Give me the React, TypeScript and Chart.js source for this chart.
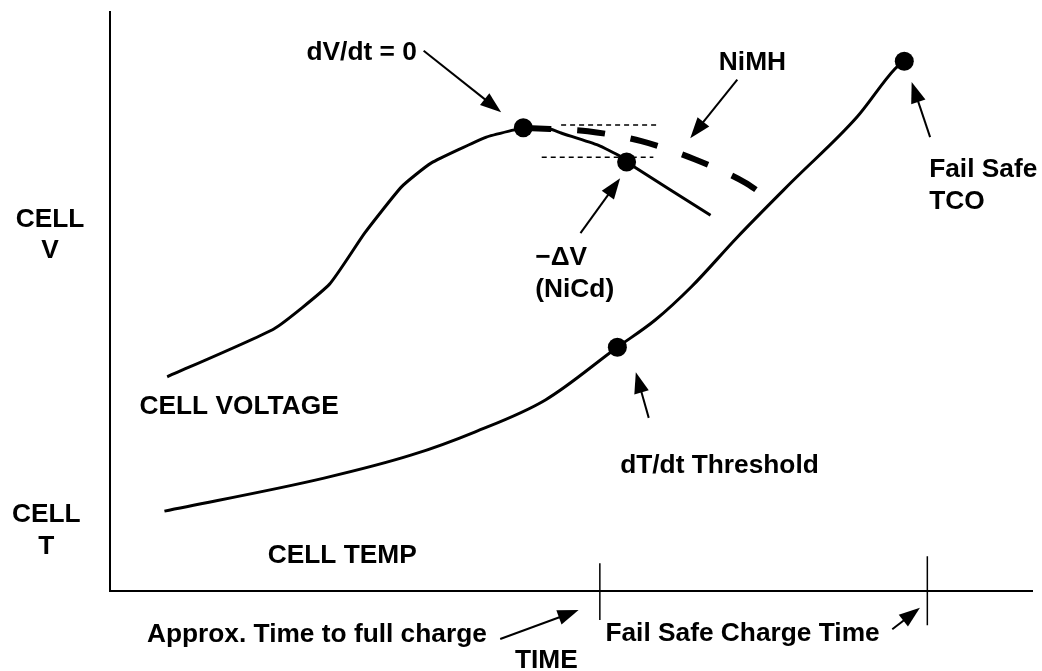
import { useEffect, useRef } from "react";
import { Chart, registerables } from "chart.js";

Chart.register(...registerables);

// Schematic charge curves (time 0-100, level 0-100, arbitrary units)
const voltageTime = [6.2, 17.8, 23.8, 27.6, 31.6, 34.8, 40.8, 43.7, 44.8, 47.7, 48.9, 52.9, 55.3, 56.0, 65.1];
const voltageLevel = [37.0, 45.3, 53.0, 61.8, 69.8, 73.9, 78.4, 79.6, 80.0, 79.8, 79.1, 77.0, 75.1, 74.1, 64.9];

const nimhTime = [44.8, 47.7, 51.8, 57.6, 63.3, 68.9, 70.4];
const nimhLevel = [80.0, 79.8, 79.4, 77.7, 74.6, 70.5, 68.9];

const tempTime = [5.9, 23.2, 32.7, 39.6, 47.2, 55.0, 59.1, 63.0, 68.0, 73.8, 81.0, 85.1, 86.1];
const tempLevel = [13.8, 19.5, 23.5, 27.5, 33.0, 42.1, 46.8, 52.5, 61.1, 70.5, 81.9, 90.2, 91.5];

// Termination events: dV/dt = 0, -dV (NiCd), dT/dt threshold, fail safe TCO
const eventTime = [44.8, 56.0, 55.0, 86.1];
const eventLevel = [80.0, 74.1, 42.1, 91.5];

// -dV reference levels
const refStart = [48.9, 46.8];
const refEnd = [59.2, 58.9];
const refLevel = [80.5, 74.9];

// Time axis marks: approx. time to full charge, fail safe charge time
const markTime = [53.1, 88.6];
const markTop = [4.8, 6.0];
const markBottom = [-5.0, -5.9];

type Label = { lines: string[]; x: number; y: number; align: CanvasTextAlign };
const labels: Label[] = [
  { lines: ["CELL", "V"], x: -6.5, y: 62.9, align: "center" },
  { lines: ["CELL", "T"], x: -6.9, y: 11.9, align: "center" },
  { lines: ["CELL VOLTAGE"], x: 3.2, y: 30.6, align: "left" },
  { lines: ["CELL TEMP"], x: 17.1, y: 4.8, align: "left" },
  { lines: ["Approx. Time to full charge"], x: 4.0, y: -8.8, align: "left" },
  { lines: ["TIME"], x: 43.9, y: -13.3, align: "left" },
  { lines: ["Fail Safe Charge Time"], x: 53.7, y: -8.6, align: "left" },
  { lines: ["dV/dt = 0"], x: 21.3, y: 91.7, align: "left" },
  { lines: ["NiMH"], x: 66.0, y: 90.0, align: "left" },
  { lines: ["\u2212\u0394V", "(NiCd)"], x: 46.1, y: 56.3, align: "left" },
  { lines: ["dT/dt Threshold"], x: 55.3, y: 20.4, align: "left" },
  { lines: ["Fail Safe", "TCO"], x: 88.8, y: 71.5, align: "left" },
];

type Arrow = { from: [number, number]; to: [number, number] };
const arrows: Arrow[] = [
  { from: [34.0, 93.3], to: [42.4, 82.7] },
  { from: [68.0, 88.3], to: [62.9, 78.2] },
  { from: [51.0, 61.8], to: [55.3, 71.3] },
  { from: [58.4, 29.9], to: [57.0, 37.8] },
  { from: [88.9, 78.4], to: [86.9, 87.9] },
  { from: [42.3, -8.3], to: [50.8, -3.3] },
  { from: [84.8, -6.6], to: [87.8, -2.9] },
];

const FONT = "bold 26.3px 'Liberation Sans', Arial, Helvetica, sans-serif";

const annotatePlugin = {
  id: "annotate",
  afterDatasetsDraw(chart: any) {
    const { ctx, scales } = chart;
    const xs = scales.x;
    const ys = scales.y;
    ctx.save();
    ctx.fillStyle = "#000";
    ctx.strokeStyle = "#000";
    ctx.lineWidth = 2;
    ctx.lineCap = "butt";
    for (const a of arrows) {
      const x1 = xs.getPixelForValue(a.from[0]);
      const y1 = ys.getPixelForValue(a.from[1]);
      const x2 = xs.getPixelForValue(a.to[0]);
      const y2 = ys.getPixelForValue(a.to[1]);
      const ang = Math.atan2(y2 - y1, x2 - x1);
      const c = Math.cos(ang);
      const s = Math.sin(ang);
      const head = 21;
      const half = 7.5;
      const bx = x2 - head * c;
      const by = y2 - head * s;
      ctx.beginPath();
      ctx.moveTo(x1, y1);
      ctx.lineTo(bx + 2 * c, by + 2 * s);
      ctx.stroke();
      ctx.beginPath();
      ctx.moveTo(x2, y2);
      ctx.lineTo(bx - half * s, by + half * c);
      ctx.lineTo(bx + half * s, by - half * c);
      ctx.closePath();
      ctx.fill();
    }
    ctx.font = FONT;
    ctx.textBaseline = "alphabetic";
    for (const l of labels) {
      ctx.textAlign = l.align;
      const px = xs.getPixelForValue(l.x);
      const py = ys.getPixelForValue(l.y);
      l.lines.forEach((t, i) => ctx.fillText(t, px, py + i * 31.5));
    }
    ctx.restore();
  },
};

const pts = (xs: number[], ys: number[]) => xs.map((x, i) => ({ x, y: ys[i] }));

export default function App() {
  const ref = useRef<HTMLCanvasElement | null>(null);
  useEffect(() => {
    if (!ref.current) return;
    const black = "#000000";
    const datasets: any[] = [
      {
        label: "events",
        data: pts(eventTime, eventLevel),
        showLine: false,
        pointRadius: 9.5,
        pointBackgroundColor: black,
        pointBorderWidth: 0,
        order: 0,
      },
      {
        label: "Cell voltage",
        data: pts(voltageTime, voltageLevel),
        borderColor: black,
        borderWidth: 3,
        borderJoinStyle: "round",
        tension: 0.15,
        pointRadius: 0,
        order: 2,
      },
      {
        label: "NiMH",
        data: pts(nimhTime, nimhLevel),
        borderColor: black,
        borderWidth: 6,
        borderDash: [28, 26],
        borderCapStyle: "butt",
        cubicInterpolationMode: "monotone",
        pointRadius: 0,
        order: 1,
      },
      {
        label: "Cell temp",
        data: pts(tempTime, tempLevel),
        borderColor: black,
        borderWidth: 3,
        borderJoinStyle: "round",
        cubicInterpolationMode: "monotone",
        pointRadius: 0,
        order: 2,
      },
      ...refLevel.map((lv, i) => ({
        label: "ref" + i,
        data: [
          { x: refStart[i], y: lv },
          { x: refEnd[i], y: lv },
        ],
        borderColor: black,
        borderWidth: 1.5,
        borderDash: [5, 4],
        pointRadius: 0,
        order: 3,
      })),
      ...markTime.map((t, i) => ({
        label: "mark" + i,
        data: [
          { x: t, y: markTop[i] },
          { x: t, y: markBottom[i] },
        ],
        borderColor: black,
        borderWidth: 1.5,
        pointRadius: 0,
        clip: false,
        order: 3,
      })),
    ];
    const chart = new Chart(ref.current, {
      type: "line",
      data: { datasets },
      options: {
        animation: false,
        responsive: true,
        maintainAspectRatio: false,
        layout: { padding: { left: 110, right: 6, top: 12, bottom: 80 } },
        plugins: { legend: { display: false }, tooltip: { enabled: false } },
        events: [],
        scales: {
          x: {
            type: "linear",
            min: 0,
            max: 100,
            ticks: { display: false },
            grid: { display: false, drawTicks: false },
            border: { display: true, color: black, width: 2 },
          },
          y: {
            type: "linear",
            min: 0,
            max: 100,
            ticks: { display: false },
            grid: { display: false, drawTicks: false },
            border: { display: true, color: black, width: 2 },
          },
        },
      },
      plugins: [annotatePlugin],
    });
    return () => chart.destroy();
  }, []);
  return (
    <div style={{ position: "fixed", left: 0, top: 0, width: 1042, height: 671, background: "#fff" }}>
      <canvas ref={ref} />
    </div>
  );
}
